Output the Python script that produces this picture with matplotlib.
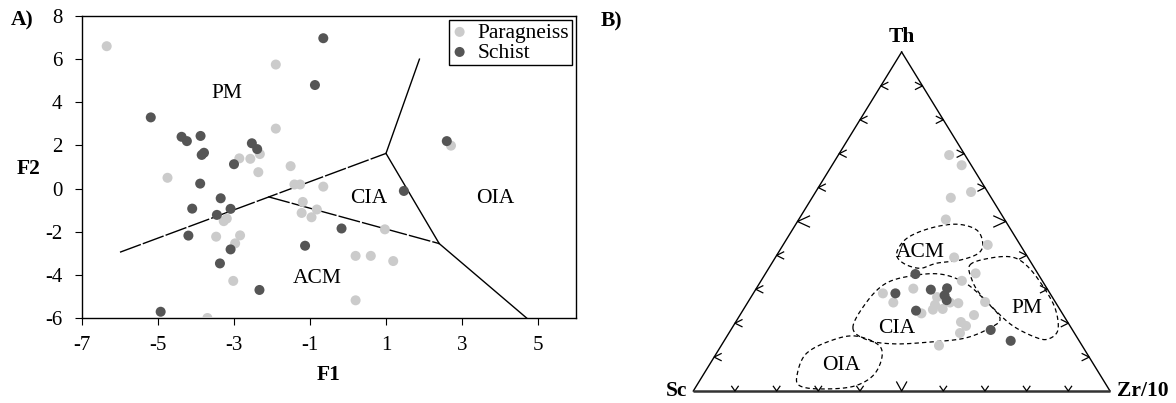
import numpy as np
import matplotlib
matplotlib.use("Agg")
import matplotlib.pyplot as plt

plt.rcParams['font.family'] = ['Liberation Serif', 'DejaVu Serif']
plt.rcParams['axes.unicode_minus'] = False

# ---------------- Panel A data ----------------
para_f1 = [-6.35, -1.9, -1.9, -4.75, -2.86, -2.57, -2.32, -2.36, -1.51, -1.41, -1.26, -0.65,
           -1.19, -1.22, -0.82, -0.96, -3.27, -3.19, -3.47, -2.84, -2.97, -3.02, 0.2, 0.6,
           1.19, 0.2, 0.97, 2.71, -3.70]
para_f2 = [6.6, 5.75, 2.78, 0.5, 1.40, 1.38, 1.60, 0.76, 1.04, 0.19, 0.19, 0.09,
           -0.62, -1.13, -0.97, -1.33, -1.51, -1.39, -2.23, -2.17, -2.54, -4.28, -3.12, -3.12,
           -3.36, -5.18, -1.89, 1.99, -6.0]
schist_f1 = [-5.19, -4.38, -4.24, -3.88, -3.85, -3.79, -3.0, -2.53, -2.39, -3.89, -3.35, -4.10,
             -3.09, -3.45, -4.2, -3.09, -3.37, -2.33, -1.13, -0.17, 1.47, -0.65, -0.87, 2.60, -4.93]
schist_f2 = [3.30, 2.40, 2.2, 2.44, 1.56, 1.66, 1.13, 2.1, 1.83, 0.23, -0.45, -0.93,
             -0.94, -1.22, -2.18, -2.82, -3.47, -4.70, -2.65, -1.85, -0.11, 6.97, 4.80, 2.20, -5.71]

# discriminant boundaries (F1, F2)
bnd_pm_lower_f1 = [-6.0, 1.0]
bnd_pm_lower_f2 = [-2.95, 1.63]
bnd_pm_oia_f1 = [1.0, 1.88]
bnd_pm_oia_f2 = [1.63, 6.0]
bnd_cia_oia_f1 = [1.0, 2.4]
bnd_cia_oia_f2 = [1.63, -2.55]
bnd_acm_oia_f1 = [2.4, 4.7]
bnd_acm_oia_f2 = [-2.55, -6.0]
bnd_acm_cia_f1 = [-2.1, 2.4]
bnd_acm_cia_f2 = [-0.38, -2.55]

fieldA_names = ['PM', 'CIA', 'OIA', 'ACM']
fieldA_f1 = [-3.19, 0.54, 3.87, -0.81]
fieldA_f2 = [4.42, -0.45, -0.45, -4.19]

xticksA = [-7, -5, -3, -1, 1, 3, 5]
yticksA = [-6, -4, -2, 0, 2, 4, 6, 8]

# ---------------- Panel B data (percent: Th, Zr/10, Sc) ----------------
para_th = [69.6, 66.6, 58.7, 57.0, 50.6, 43.1, 39.4, 34.7, 32.5, 30.2, 28.8, 26.1, 27.7, 25.4,
           24.2, 24.0, 25.9, 26.1, 26.25, 22.9, 22.4, 20.35, 19.2, 17.1, 13.4]
para_zr = [26.6, 31.1, 37.3, 33.3, 35.3, 49.1, 42.9, 50.4, 48.2, 37.7, 31.1, 34.95, 44.65, 45.3,
           47.75, 45.5, 50.65, 48.55, 56.9, 43.3, 56.16, 54.06, 55.84, 55.45, 52.26]
para_sc = [100 - a - b for a, b in zip(para_th, para_zr)]
schist_th = [34.5, 28.8, 29.9, 30.3, 28.2, 26.8, 23.7, 18.0, 14.8]
schist_zr = [36.05, 34.1, 42.05, 45.75, 46.2, 47.4, 41.6, 62.37, 68.77]
schist_sc = [100 - a - b for a, b in zip(schist_th, schist_zr)]

# tectonic fields (Th %, Zr/10 %)
acm_th = [40.6, 45.0, 48.0, 49.2, 47.5, 43.6, 40.6, 38.6, 37.7, 36.2, 37.7]
acm_zr = [28.5, 28.7, 32.8, 38.6, 44.25, 47.65, 48.1, 44.7, 39.55, 36.3, 31.55]
cia_th = [18.6, 26.0, 31.6, 33.9, 34.5, 31.9, 26.8, 21.5, 18.6, 15.6, 14.45, 13.9, 15.0]
cia_zr = [29.0, 28.45, 30.2, 35.05, 41.95, 49.25, 56.6, 62.85, 61.9, 57.4, 49.6, 41.45, 34.4]
pm_th = [37.2, 39.2, 39.5, 36.9, 31.3, 24.5, 18.0, 15.3, 15.9, 19.2, 23.9, 28.6, 32.7]
pm_zr = [47.8, 51.6, 56.75, 61.65, 68.05, 74.55, 78.5, 77.45, 74.05, 67.1, 60.45, 54.5, 50.55]
oia_th = [4.7, 10.9, 14.75, 16.2, 12.7, 5.6, 1.5, 0.6, 1.5]
oia_zr = [22.55, 21.55, 25.4, 30.95, 38.7, 41.05, 38.05, 30.6, 24.85]

fieldB_names = ['ACM', 'CIA', 'PM', 'OIA']
fieldB_th = [40.8, 18.5, 24.4, 7.4]
fieldB_zr = [34.0, 39.55, 67.95, 31.9]

LIGHT = '#cbcbcb'
DARK = '#555555'
MS = 52

fig = plt.figure(figsize=(11.76, 4.03), dpi=100)
W, H = 1176.0, 403.0

# ================= Panel A =================
axA = fig.add_axes([82 / W, 85 / H, 494 / W, 302 / H])
axA.scatter(para_f1, para_f2, s=MS, color=LIGHT, edgecolors='none', label='Paragneiss', zorder=3)
axA.scatter(schist_f1, schist_f2, s=MS, color=DARK, edgecolors='none', label='Schist', zorder=3)
dash = (0, (16, 1.5))
axA.plot(bnd_pm_lower_f1, bnd_pm_lower_f2, color='black', lw=1.0, ls=dash, zorder=2)
axA.plot(bnd_pm_oia_f1, bnd_pm_oia_f2, color='black', lw=1.0, zorder=2)
axA.plot(bnd_cia_oia_f1, bnd_cia_oia_f2, color='black', lw=1.0, zorder=2)
axA.plot(bnd_acm_oia_f1, bnd_acm_oia_f2, color='black', lw=1.0, zorder=2)
axA.plot(bnd_acm_cia_f1, bnd_acm_cia_f2, color='black', lw=1.0, ls=dash, zorder=2)
for name, x, y in zip(fieldA_names, fieldA_f1, fieldA_f2):
    axA.text(x, y, name, fontsize=15.5, ha='center', va='center')
axA.set_xlim(-7, 6)
axA.set_ylim(-6, 8)
axA.set_xticks(xticksA)
axA.set_yticks(yticksA)
axA.tick_params(direction='out', length=5, width=0.8, labelsize=15)
axA.tick_params(axis='x', pad=8)
axA.tick_params(axis='y', pad=9)
for sp in axA.spines.values():
    sp.set_linewidth(1.0)
axA.set_xlabel('F1', fontsize=15.5, fontweight='bold', labelpad=7)
axA.set_ylabel('F2', fontsize=15.5, fontweight='bold', rotation=0, ha='center', va='center')
axA.yaxis.set_label_coords(-0.109, 0.493)
leg = axA.legend(loc='upper right', fontsize=15.5, frameon=True, fancybox=False,
                 edgecolor='black', framealpha=1, borderpad=0.1, labelspacing=0.0,
                 handlelength=0.8, handletextpad=0.45, borderaxespad=0.2)
leg.get_frame().set_linewidth(1.0)
fig.text(21.7 / W, 1 - 20 / H, 'A)', fontsize=15.5, fontweight='bold', ha='center', va='center')

# ================= Panel B =================
s3 = np.sqrt(3) / 2
axB = fig.add_axes([693.3 / W, 12 / H, 416.7 / W, 339 / H])
axB.set_xlim(0, 1)
axB.set_ylim(0, s3)
axB.axis('off')

def tern(th, zr):
    th = np.asarray(th, float) / 100.0
    zr = np.asarray(zr, float) / 100.0
    return zr + th / 2.0, th * s3

px_x = 1.0 / 416.7
px_y = s3 / 339.0

# triangle
axB.plot([0, 0.5], [0, s3], color='black', lw=1.0, clip_on=False)
axB.plot([0.5, 1], [s3, 0], color='black', lw=1.0, clip_on=False)
axB.plot([0, 1], [0, 0], color='#333333', lw=1.8, clip_on=False, solid_capstyle='butt')

def chevron(x, y, dx, dy, L, Wd):
    # apex at (x,y); arms go along (dx,dy) for L px, spread +-Wd px perpendicular
    px, py = -dy, dx
    a1 = (x + (dx * L + px * Wd) * px_x, y + (dy * L + py * Wd) * px_y)
    a2 = (x + (dx * L - px * Wd) * px_x, y + (dy * L - py * Wd) * px_y)
    axB.plot([a1[0], x, a2[0]], [a1[1], y, a2[1]], color='black', lw=0.9, clip_on=False)

tick_fr = [0.1, 0.2, 0.3, 0.4, 0.5, 0.6, 0.7, 0.8, 0.9]
for t in tick_fr:
    big = abs(t - 0.5) < 1e-9
    chevron(t, 0, 0, 1, 9 if big else 4.7, 5 if big else 3.3)
    chevron(t / 2, t * s3, 1, 0, 12 if big else 7, 5.5 if big else 3.5)
    chevron(1 - t / 2, t * s3, -1, 0, 12 if big else 7, 5.5 if big else 3.5)

def smooth_closed(xs, ys, n=24):
    P = np.column_stack([xs, ys])
    N = len(P)
    t = np.linspace(0, 1, n, endpoint=False)[:, None]
    segs = []
    for i in range(N):
        p0, p1, p2, p3 = P[(i - 1) % N], P[i], P[(i + 1) % N], P[(i + 2) % N]
        segs.append(0.5 * (2 * p1 + (-p0 + p2) * t + (2 * p0 - 5 * p1 + 4 * p2 - p3) * t ** 2
                           + (-p0 + 3 * p1 - 3 * p2 + p3) * t ** 3))
    out = np.vstack(segs + [segs[0][:1]])
    return out[:, 0], out[:, 1]

for th, zr in [(acm_th, acm_zr), (cia_th, cia_zr), (pm_th, pm_zr), (oia_th, oia_zr)]:
    x, y = tern(th, zr)
    sx, sy = smooth_closed(x, y)
    axB.plot(sx, sy, color='black', lw=0.9, ls=(0, (3.5, 2.5)), zorder=2)

x, y = tern(para_th, para_zr)
axB.scatter(x, y, s=MS, color=LIGHT, edgecolors='none', zorder=3, clip_on=False)
x, y = tern(schist_th, schist_zr)
axB.scatter(x, y, s=MS, color=DARK, edgecolors='none', zorder=3, clip_on=False)

for name, th, zr in zip(fieldB_names, fieldB_th, fieldB_zr):
    x, y = tern(th, zr)
    axB.text(x, y, name, fontsize=15.5, ha='center', va='center', zorder=4)

axB.annotate('Th', (0.5, s3), xytext=(0, 11), textcoords='offset points', ha='center',
             va='center', fontsize=15.5, fontweight='bold', annotation_clip=False)
axB.annotate('Sc', (0, 0), xytext=(-4, 0), textcoords='offset points', ha='right',
             va='center', fontsize=15.5, fontweight='bold', annotation_clip=False)
axB.annotate('Zr/10', (1, 0), xytext=(5, 0), textcoords='offset points', ha='left',
             va='center', fontsize=15.5, fontweight='bold', annotation_clip=False)
fig.text(611.7 / W, 1 - 21.7 / H, 'B)', fontsize=15.5, fontweight='bold', ha='center', va='center')

fig.savefig('out.png', dpi=100)
